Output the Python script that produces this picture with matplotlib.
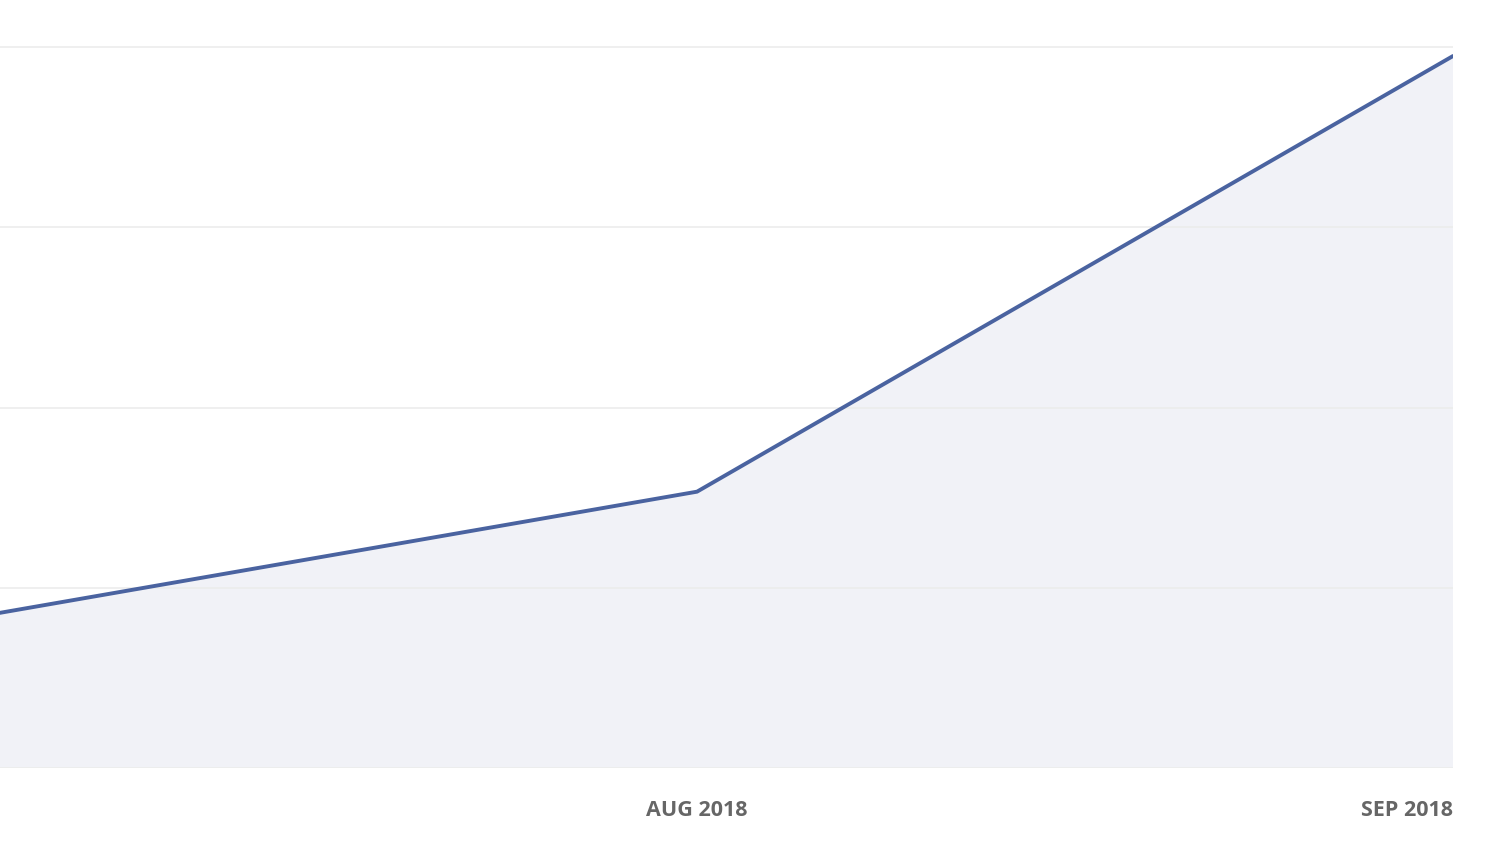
import matplotlib.pyplot as plt

# monthly values (JUL point sits just off the left edge)
months = ["JUL 2018", "AUG 2018", "SEP 2018"]
values = [80.4, 153.3, 395.0]
grid_levels = [0, 100, 200, 300, 400]

line_color = "#4a63a0"
fill_color = "#f1f2f7"
grid_color = "#ececec"
label_color = "#666666"

fig = plt.figure(figsize=(14.92, 8.42), dpi=100)
ax = fig.add_axes([0, 74 / 842, 1453 / 1492, 768 / 842])

x = list(range(len(months)))
ax.fill_between(x, values, 0, color=fill_color, lw=0, zorder=1)
ax.plot(x, values, color=line_color, lw=2.8, solid_capstyle="round", zorder=3)

ax.set_xlim(1 - 697 / 756, 2)
ax.set_ylim(0, 400 * 768 / 721)

for g in grid_levels:
    ax.axhline(g, color=grid_color, lw=1.2, zorder=2)

ax.set_yticks([])
ax.set_xticks(x[1:])
ax.set_xticklabels(months[1:], fontsize=15.5, fontweight="bold",
                   family=["Open Sans", "DejaVu Sans"], color=label_color)
ax.tick_params(axis="x", length=0, pad=23)
ax.get_xticklabels()[-1].set_ha("right")

for s in ax.spines.values():
    s.set_visible(False)

fig.savefig("out.png", dpi=100, facecolor="white")
